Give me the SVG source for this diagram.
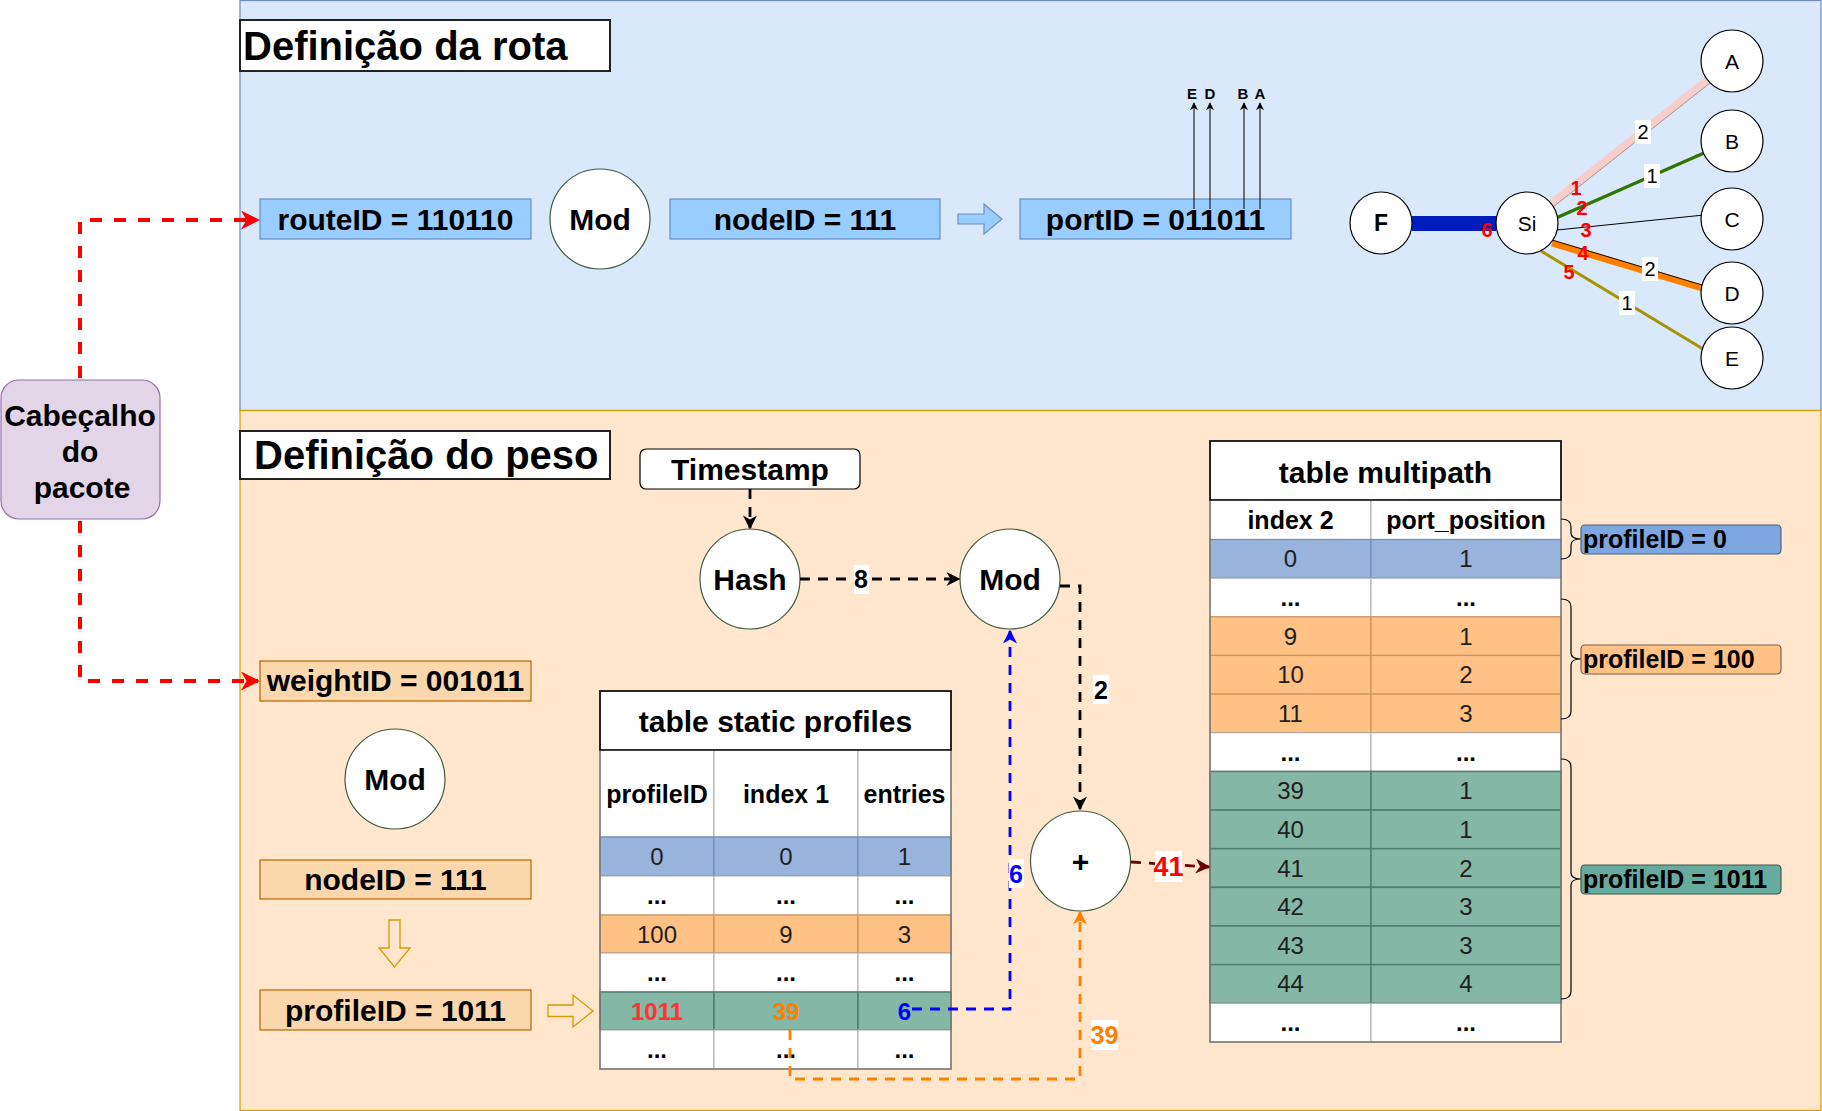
<svg xmlns="http://www.w3.org/2000/svg" width="1822" height="1111" viewBox="0 0 1822 1111">
<style>
text{font-family:"Liberation Sans",Arial,sans-serif;fill:#000}
.b{font-weight:bold}
.t40{font-size:40px;font-weight:bold}
.t30{font-size:30px;font-weight:bold;text-anchor:middle}
.t25{font-size:25px;font-weight:bold;text-anchor:middle}
.v24{font-size:24px;text-anchor:middle;fill:#1e1e1e}
.d24{font-size:24px;font-weight:bold;text-anchor:middle}
.g20{font-size:21px;text-anchor:middle}
.r19{font-size:20px;font-weight:bold;fill:#ff0000;text-anchor:middle}
.el{font-size:20px;text-anchor:middle}
.circ{fill:#fff;stroke:#3d5a3d;stroke-width:1.2}
.gc{fill:#fff;stroke:#000;stroke-width:1.2}
.bluebox{fill:#99ccff;stroke:#6c8ebf;stroke-width:1.2}
.orbox{fill:#fad7ac;stroke:#b46504;stroke-width:1.2}
.cellw{fill:#fff;stroke:#aaa;stroke-width:1}
.cellb{fill:#98b3dc;stroke:#6c8ebf;stroke-width:1.2}
.cello{fill:#ffc184;stroke:#c9945e;stroke-width:1.2}
.cellg{fill:#84b7a6;stroke:#4f7f70;stroke-width:1.5}
.dash{fill:none;stroke-width:2.8;stroke-dasharray:10 8}
.rdash{fill:none;stroke:#ff0000;stroke-width:4;stroke-dasharray:12 12}
</style>
<defs>
<marker id="ak" viewBox="0 0 10 10" refX="9" refY="5" markerUnits="userSpaceOnUse" markerWidth="14" markerHeight="14" orient="auto"><path d="M0,0 L10,5 L0,10 L3,5 z" fill="#000"/></marker>
<marker id="ar" viewBox="0 0 10 10" refX="9" refY="5" markerUnits="userSpaceOnUse" markerWidth="19" markerHeight="19" orient="auto"><path d="M0,0 L10,5 L0,10 L3,5 z" fill="#ff0000"/></marker>
<marker id="ab" viewBox="0 0 10 10" refX="9" refY="5" markerUnits="userSpaceOnUse" markerWidth="14" markerHeight="14" orient="auto"><path d="M0,0 L10,5 L0,10 L3,5 z" fill="#0000ff"/></marker>
<marker id="ao" viewBox="0 0 10 10" refX="9" refY="5" markerUnits="userSpaceOnUse" markerWidth="14" markerHeight="14" orient="auto"><path d="M0,0 L10,5 L0,10 L3,5 z" fill="#ff8000"/></marker>
<marker id="ad" viewBox="0 0 10 10" refX="9" refY="5" markerUnits="userSpaceOnUse" markerWidth="15" markerHeight="15" orient="auto"><path d="M0,0 L10,5 L0,10 L3,5 z" fill="#6f0000"/></marker>
<marker id="as" viewBox="0 0 10 10" refX="9" refY="5" markerUnits="userSpaceOnUse" markerWidth="8" markerHeight="8" orient="auto"><path d="M0,0 L10,5 L0,10 L3,5 z" fill="#000"/></marker>
</defs>
<rect width="1822" height="1111" fill="#fff"/>

<g id="panel-rota">
<rect x="240" y="0.5" width="1581" height="410" fill="#dae8fc" stroke="#6c8ebf" stroke-width="1.2"/>
</g>
<g id="panel-peso">
<rect x="240" y="410.5" width="1581" height="700" fill="#ffe6cc" stroke="#d79b00" stroke-width="1.2"/>
</g>

<g id="title-rota">
<rect x="240" y="20" width="370" height="51" fill="#fff" stroke="#222" stroke-width="2"/>
<text x="243" y="60" class="t40">Definição da rota</text>
</g>
<g id="title-peso">
<rect x="240" y="431" width="370" height="48" fill="#fff" stroke="#222" stroke-width="2"/>
<text x="254" y="469" class="t40">Definição do peso</text>
</g>

<g id="cabecalho">
<rect x="1" y="380" width="159" height="139" rx="18" fill="#e1d5e7" stroke="#9673a6" stroke-width="1.2"/>
<text x="80" y="425.5" class="t30">Cabeçalho</text>
<text x="80" y="461.5" class="t30">do</text>
<text x="82" y="497.5" class="t30">pacote</text>
</g>

<g id="routeID">
<rect x="260" y="199" width="271" height="40" class="bluebox"/>
<text x="395.5" y="229.5" class="t30">routeID = 110110</text>
</g>
<g id="mod-top">
<circle cx="600" cy="219" r="50" class="circ"/>
<text x="600" y="229.5" class="t30">Mod</text>
</g>
<g id="nodeID-top">
<rect x="670" y="199" width="270" height="40" class="bluebox"/>
<text x="805" y="229.5" class="t30">nodeID = 111</text>
</g>
<g id="arrow-top">
<path d="M958,214 H984 V204 L1002,219 L984,234 V224 H958 Z" fill="#99ccff" stroke="#6c8ebf" stroke-width="1.2"/>
</g>
<g id="portID">
<rect x="1020" y="199" width="271" height="40" class="bluebox"/>
<text x="1155.5" y="229.5" class="t30">portID = 011011</text>
</g>
<g id="port-letters">
<text x="1192" y="99" style="font-size:15px;font-weight:bold;text-anchor:middle">E</text>
<text x="1210" y="99" style="font-size:15px;font-weight:bold;text-anchor:middle">D</text>
<text x="1243" y="99" style="font-size:15px;font-weight:bold;text-anchor:middle">B</text>
<text x="1260" y="99" style="font-size:15px;font-weight:bold;text-anchor:middle">A</text>
</g>

<g id="graph-edges">
<line x1="1412" y1="223.5" x2="1496" y2="223.5" stroke="#001dbc" stroke-width="15"/>
<line x1="1551" y1="204" x2="1708" y2="80" stroke="#f8cecc" stroke-width="8"/>
<line x1="1553" y1="207" x2="1710" y2="83" stroke="#8a8a8a" stroke-width="0.8"/>
<line x1="1556" y1="218" x2="1704" y2="153" stroke="#2d7600" stroke-width="3.2"/>
<line x1="1557" y1="230" x2="1704" y2="215" stroke="#000" stroke-width="1"/>
<line x1="1552" y1="243" x2="1702" y2="288" stroke="#ff8000" stroke-width="7"/>
<line x1="1552" y1="240" x2="1702" y2="285" stroke="#000" stroke-width="0.9"/>
<line x1="1541" y1="251" x2="1703" y2="349" stroke="#a89400" stroke-width="3"/>
<rect x="1635" y="120" width="16" height="24" fill="#fff"/>
<text x="1643" y="139" class="el">2</text>
<rect x="1644" y="164" width="16" height="24" fill="#fff"/>
<text x="1652" y="183" class="el">1</text>
<rect x="1642" y="257" width="16" height="24" fill="#fff"/>
<text x="1650" y="276" class="el">2</text>
<rect x="1619" y="291" width="16" height="24" fill="#fff"/>
<text x="1627" y="310" class="el">1</text>
<text x="1576" y="195" class="r19">1</text>
<text x="1582" y="215" class="r19">2</text>
<text x="1586" y="237" class="r19">3</text>
<text x="1583" y="260" class="r19">4</text>
<text x="1569" y="279" class="r19">5</text>
<text x="1487" y="237" class="r19">6</text>
</g>
<g id="node-F"><circle cx="1381" cy="223" r="31" class="gc"/><text x="1381" y="231" class="g20 b" style="font-size:23px">F</text></g>
<g id="node-Si"><circle cx="1527" cy="223" r="31" class="gc"/><text x="1527" y="230.5" class="g20">Si</text></g>
<g id="node-A"><circle cx="1732" cy="61" r="31" class="gc"/><text x="1732" y="68.5" class="g20">A</text></g>
<g id="node-B"><circle cx="1732" cy="141" r="31" class="gc"/><text x="1732" y="148.5" class="g20">B</text></g>
<g id="node-C"><circle cx="1732" cy="219" r="31" class="gc"/><text x="1732" y="226.5" class="g20">C</text></g>
<g id="node-D"><circle cx="1732" cy="293" r="31" class="gc"/><text x="1732" y="300.5" class="g20">D</text></g>
<g id="node-E"><circle cx="1732" cy="358" r="31" class="gc"/><text x="1732" y="365.5" class="g20">E</text></g>

<g id="weightID">
<rect x="260" y="661" width="271" height="40" class="orbox"/>
<text x="395.5" y="691" class="t30">weightID = 001011</text>
</g>
<g id="mod-left">
<circle cx="395" cy="779" r="50" class="circ"/>
<text x="395" y="789.5" class="t30">Mod</text>
</g>
<g id="nodeID-bottom">
<rect x="260" y="860" width="271" height="39" class="orbox"/>
<text x="395.5" y="890" class="t30">nodeID = 111</text>
</g>
<g id="arrow-down">
<path d="M389,920 H400 V948 H410 L394.5,967 L379,948 H389 Z" fill="#ffe6cc" stroke="#d79b00" stroke-width="1.3"/>
</g>
<g id="profileID-left">
<rect x="260" y="990" width="271" height="40" class="orbox"/>
<text x="395.5" y="1020.5" class="t30">profileID = 1011</text>
</g>
<g id="arrow-right">
<path d="M548,1005 H573 V995 L593,1011 L573,1027 V1016.5 H548 Z" fill="#ffe6cc" stroke="#d79b00" stroke-width="1.3"/>
</g>

<g id="timestamp">
<rect x="640" y="449" width="220" height="40" rx="6" fill="#fff" stroke="#000" stroke-width="1.2"/>
<text x="750" y="479.5" class="t30">Timestamp</text>
</g>
<g id="hash">
<circle cx="750" cy="579" r="50" class="circ"/>
<text x="750" y="589.5" class="t30">Hash</text>
</g>
<g id="mod-mid">
<circle cx="1010" cy="579" r="50" class="circ"/>
<text x="1010" y="589.5" class="t30">Mod</text>
</g>
<g id="plus">
<circle cx="1080.5" cy="861" r="50" class="circ"/>
<text x="1080.5" y="871.5" class="t30">+</text>
</g>

<g id="table-static">
<rect x="600" y="691" width="351" height="59" fill="#fff" stroke="#111" stroke-width="1.5"/>
<text x="775.5" y="732" class="t30">table static profiles</text>
<rect x="600" y="750" width="114" height="87" class="cellw"/>
<rect x="714" y="750" width="144" height="87" class="cellw"/>
<rect x="858" y="750" width="93" height="87" class="cellw"/>
<text x="657" y="803" class="t25">profileID</text>
<text x="786" y="803" class="t25">index 1</text>
<text x="904.5" y="803" class="t25">entries</text>
<rect x="600" y="837" width="114" height="39" class="cellb"/>
<rect x="714" y="837" width="144" height="39" class="cellb"/>
<rect x="858" y="837" width="93" height="39" class="cellb"/>
<text x="657" y="865" class="v24">0</text><text x="786" y="865" class="v24">0</text><text x="904.5" y="865" class="v24">1</text>
<rect x="600" y="876" width="114" height="39" class="cellw"/>
<rect x="714" y="876" width="144" height="39" class="cellw"/>
<rect x="858" y="876" width="93" height="39" class="cellw"/>
<text x="657" y="904" class="d24">...</text><text x="786" y="904" class="d24">...</text><text x="904.5" y="904" class="d24">...</text>
<rect x="600" y="915" width="114" height="38" class="cello"/>
<rect x="714" y="915" width="144" height="38" class="cello"/>
<rect x="858" y="915" width="93" height="38" class="cello"/>
<text x="657" y="942.5" class="v24">100</text><text x="786" y="942.5" class="v24">9</text><text x="904.5" y="942.5" class="v24">3</text>
<rect x="600" y="953" width="114" height="39" class="cellw"/>
<rect x="714" y="953" width="144" height="39" class="cellw"/>
<rect x="858" y="953" width="93" height="39" class="cellw"/>
<text x="657" y="981" class="d24">...</text><text x="786" y="981" class="d24">...</text><text x="904.5" y="981" class="d24">...</text>
<rect x="600" y="992" width="114" height="38" class="cellg"/>
<rect x="714" y="992" width="144" height="38" class="cellg"/>
<rect x="858" y="992" width="93" height="38" class="cellg"/>
<text x="657" y="1019.5" class="d24" style="fill:#ff3333">1011</text>
<text x="786" y="1019.5" class="d24" style="fill:#ff8000">39</text>
<text x="904.5" y="1019.5" class="d24" style="fill:#0000ff">6</text>
<rect x="600" y="1030" width="114" height="39" class="cellw"/>
<rect x="714" y="1030" width="144" height="39" class="cellw"/>
<rect x="858" y="1030" width="93" height="39" class="cellw"/>
<text x="657" y="1058" class="d24">...</text><text x="786" y="1058" class="d24">...</text><text x="904.5" y="1058" class="d24">...</text>
<rect x="600" y="691" width="351" height="378" fill="none" stroke="#777" stroke-width="1.5"/>
<rect x="600" y="691" width="351" height="59" fill="none" stroke="#111" stroke-width="1.5"/>
</g>

<g id="table-multipath">
<rect x="1210" y="441" width="351" height="59" fill="#fff" stroke="#111" stroke-width="1.5"/>
<text x="1385.5" y="483" class="t30">table multipath</text>
<rect x="1210" y="500" width="161" height="39.5" class="cellw"/>
<rect x="1371" y="500" width="190" height="39.5" class="cellw"/>
<text x="1290.5" y="529" class="t25">index 2</text>
<text x="1466" y="529" class="t25">port_position</text>
<rect x="1210" y="539.5" width="161" height="38.65" class="cellb"/><rect x="1371" y="539.5" width="190" height="38.65" class="cellb"/>
<text x="1290.5" y="567.3" class="v24">0</text><text x="1466" y="567.3" class="v24">1</text>
<rect x="1210" y="578.15" width="161" height="38.65" class="cellw"/><rect x="1371" y="578.15" width="190" height="38.65" class="cellw"/>
<text x="1290.5" y="605.9" class="d24">...</text><text x="1466" y="605.9" class="d24">...</text>
<rect x="1210" y="616.8" width="161" height="38.65" class="cello"/><rect x="1371" y="616.8" width="190" height="38.65" class="cello"/>
<text x="1290.5" y="644.6" class="v24">9</text><text x="1466" y="644.6" class="v24">1</text>
<rect x="1210" y="655.45" width="161" height="38.65" class="cello"/><rect x="1371" y="655.45" width="190" height="38.65" class="cello"/>
<text x="1290.5" y="683.2" class="v24">10</text><text x="1466" y="683.2" class="v24">2</text>
<rect x="1210" y="694.1" width="161" height="38.65" class="cello"/><rect x="1371" y="694.1" width="190" height="38.65" class="cello"/>
<text x="1290.5" y="721.9" class="v24">11</text><text x="1466" y="721.9" class="v24">3</text>
<rect x="1210" y="732.75" width="161" height="38.65" class="cellw"/><rect x="1371" y="732.75" width="190" height="38.65" class="cellw"/>
<text x="1290.5" y="760.5" class="d24">...</text><text x="1466" y="760.5" class="d24">...</text>
<rect x="1210" y="771.4" width="161" height="38.65" class="cellg"/><rect x="1371" y="771.4" width="190" height="38.65" class="cellg"/>
<text x="1290.5" y="799.2" class="v24">39</text><text x="1466" y="799.2" class="v24">1</text>
<rect x="1210" y="810.05" width="161" height="38.65" class="cellg"/><rect x="1371" y="810.05" width="190" height="38.65" class="cellg"/>
<text x="1290.5" y="837.8" class="v24">40</text><text x="1466" y="837.8" class="v24">1</text>
<rect x="1210" y="848.7" width="161" height="38.65" class="cellg"/><rect x="1371" y="848.7" width="190" height="38.65" class="cellg"/>
<text x="1290.5" y="876.5" class="v24">41</text><text x="1466" y="876.5" class="v24">2</text>
<rect x="1210" y="887.35" width="161" height="38.65" class="cellg"/><rect x="1371" y="887.35" width="190" height="38.65" class="cellg"/>
<text x="1290.5" y="915.1" class="v24">42</text><text x="1466" y="915.1" class="v24">3</text>
<rect x="1210" y="926" width="161" height="38.65" class="cellg"/><rect x="1371" y="926" width="190" height="38.65" class="cellg"/>
<text x="1290.5" y="953.8" class="v24">43</text><text x="1466" y="953.8" class="v24">3</text>
<rect x="1210" y="964.65" width="161" height="38.65" class="cellg"/><rect x="1371" y="964.65" width="190" height="38.65" class="cellg"/>
<text x="1290.5" y="992.4" class="v24">44</text><text x="1466" y="992.4" class="v24">4</text>
<rect x="1210" y="1003.3" width="161" height="38.7" class="cellw"/><rect x="1371" y="1003.3" width="190" height="38.7" class="cellw"/>
<text x="1290.5" y="1031" class="d24">...</text><text x="1466" y="1031" class="d24">...</text>
<rect x="1210" y="441" width="351" height="601" fill="none" stroke="#777" stroke-width="1.5"/>
<rect x="1210" y="441" width="351" height="59" fill="none" stroke="#111" stroke-width="1.5"/>
</g>

<g id="braces" fill="none" stroke="#000" stroke-width="1.2">
<path d="M1561,519 Q1571,519 1571,527 V533 Q1571,539 1581,539 Q1571,539 1571,545 V551 Q1571,559 1561,559"/>
<path d="M1561,599 Q1571,599 1571,607 V653 Q1571,659 1581,659 Q1571,659 1571,665 V711 Q1571,719 1561,719"/>
<path d="M1561,759 Q1571,759 1571,767 V873 Q1571,879 1581,879 Q1571,879 1571,885 V991 Q1571,999 1561,999"/>
</g>
<g id="label-profile0">
<rect x="1581" y="525" width="200" height="29" rx="4" fill="#7ea6e0" stroke="#4f6480" stroke-width="1.2"/>
<text x="1583" y="548" style="font-size:25px;font-weight:bold">profileID = 0</text>
</g>
<g id="label-profile100">
<rect x="1581" y="645" width="200" height="29" rx="4" fill="#ffc184" stroke="#7a6450" stroke-width="1.2"/>
<text x="1583" y="668" style="font-size:25px;font-weight:bold">profileID = 100</text>
</g>
<g id="label-profile1011">
<rect x="1581" y="865" width="200" height="29" rx="4" fill="#67ab9f" stroke="#3c5a55" stroke-width="1.2"/>
<text x="1583" y="888" style="font-size:25px;font-weight:bold">profileID = 1011</text>
</g>

<g id="connectors">
<path d="M80,378 V220 H258" class="rdash" marker-end="url(#ar)"/>
<path d="M80,521 V681 H258" class="rdash" marker-end="url(#ar)"/>
<line x1="1194" y1="209" x2="1194" y2="103" stroke="#000" stroke-width="1" marker-end="url(#as)"/>
<line x1="1210" y1="209" x2="1210" y2="103" stroke="#000" stroke-width="1" marker-end="url(#as)"/>
<line x1="1244" y1="209" x2="1244" y2="103" stroke="#000" stroke-width="1" marker-end="url(#as)"/>
<line x1="1260" y1="209" x2="1260" y2="103" stroke="#000" stroke-width="1" marker-end="url(#as)"/>
<path d="M750,489 V528" class="dash" stroke="#000" marker-end="url(#ak)"/>
<path d="M800,579 H959" class="dash" stroke="#000" marker-end="url(#ak)"/>
<rect x="854" y="565" width="15" height="29" fill="#fff"/>
<text x="861" y="588" class="t25">8</text>
<path d="M1060,586 H1080 V809" class="dash" stroke="#000" marker-end="url(#ak)"/>
<rect x="1093" y="675" width="16" height="29" fill="#fff"/>
<text x="1101" y="699" class="t25">2</text>
<path d="M912,1009 H1010 V631" class="dash" stroke="#0000ff" marker-end="url(#ab)"/>
<rect x="1009" y="859" width="15" height="29" fill="#fff"/>
<text x="1016" y="883" class="t25" style="fill:#0000ff">6</text>
<path d="M790,1030 V1079 H1080 V912" class="dash" stroke="#ff8000" marker-end="url(#ao)"/>
<rect x="1091" y="1020" width="27" height="30" fill="#fff"/>
<text x="1104.5" y="1044" class="t25" style="fill:#ff8000">39</text>
<path d="M1131,862 L1209,867" class="dash" stroke="#6f0000" marker-end="url(#ad)"/>
<rect x="1155" y="851" width="27" height="31" fill="#fff"/>
<text x="1168.5" y="876" class="t25" style="fill:#ff0000;font-size:27px">41</text>
</g>
</svg>
